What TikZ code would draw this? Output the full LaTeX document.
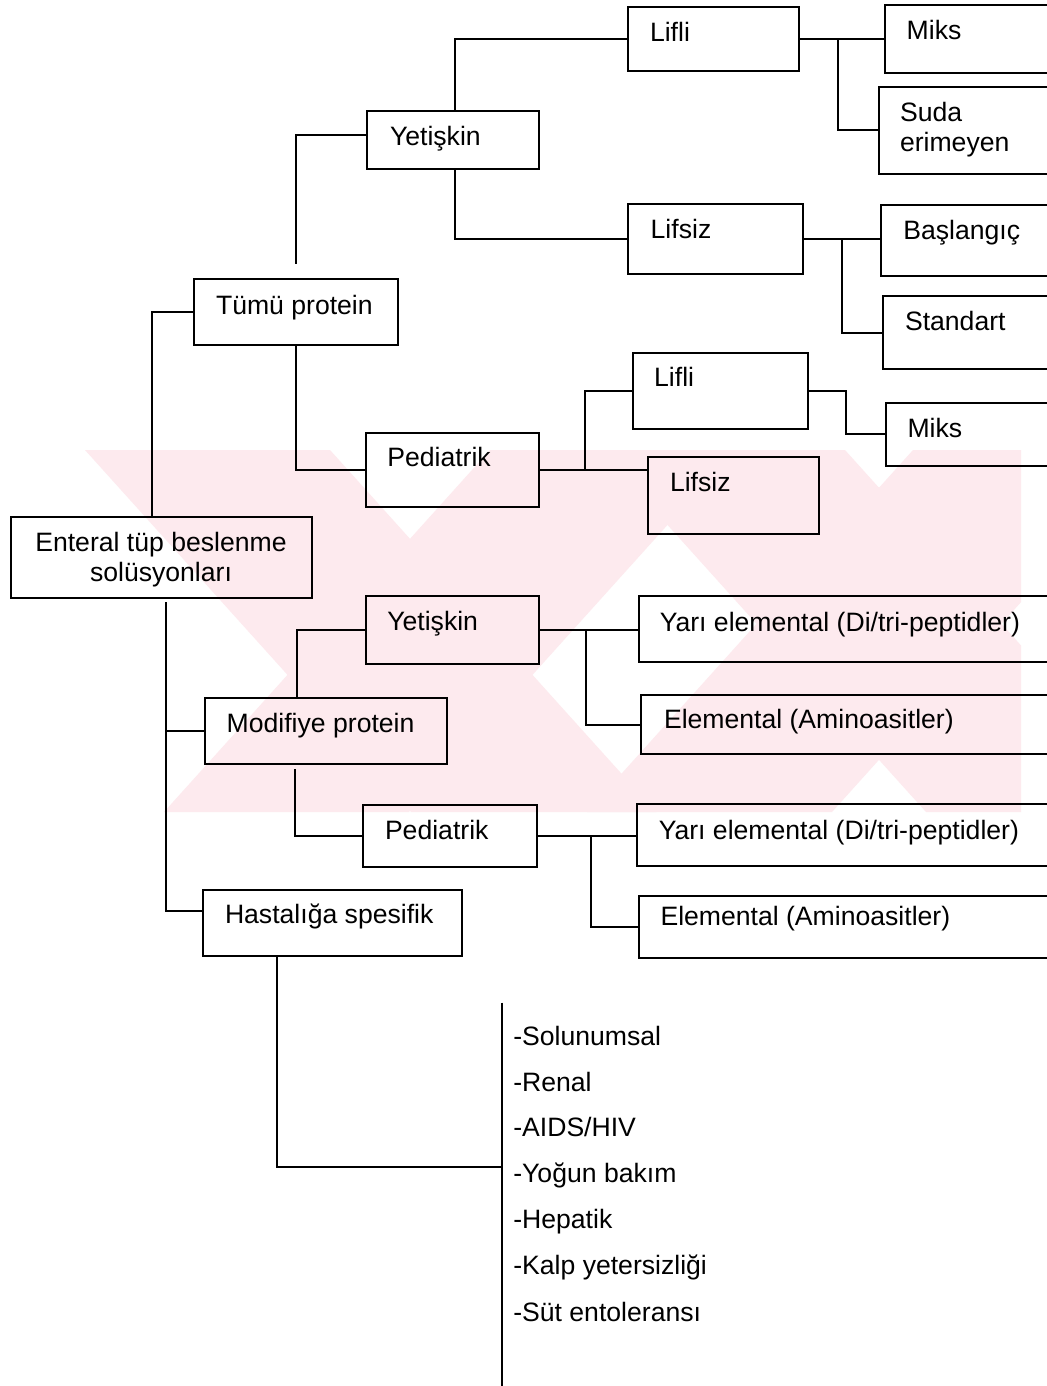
\documentclass[tikz,border=0pt]{standalone}
\usepackage{fontspec}
\setmainfont{Liberation Sans}
\definecolor{wmpink}{RGB}{253,234,238}
\newcommand\mybox[5]{%
  \pgfmathsetmacro\myBW{(#4-#2)*0.5}%
  \pgfmathsetmacro\myBH{(#5-#3)*0.5}%
  \node[bx, minimum width=\myBW pt, minimum height=\myBH pt] (#1) at ({(#2+#4)/2},{(#3+#5)/2}) {};}
\newcommand\mytext[4]{\node[txt] (#1) at (#2,#3) {#4};}
\begin{document}
\begin{tikzpicture}[x=0.5pt,y=-0.5pt,
  bx/.style={draw, line width=1pt, inner sep=0pt, outer sep=0pt, rectangle},
  txt/.style={inner sep=0pt, outer sep=0pt, font=\fontsize{13.3pt}{16pt}\selectfont, anchor=base west},
  ctxt/.style={txt, anchor=base},
  ln/.style={line width=1pt},
  wm/.style={fill=wmpink, draw=none}]
\useasboundingbox (0,0) rectangle (1047,1386);
\clip (0,0) rectangle (1047,1386);
\fill[white] (0,0) rectangle (1047,1386);

% faint watermark
\begin{scope}
  \clip (85,450) rectangle (1021,812);
  \fill[wm] (85,450) -- (330,450) -- (656,812) -- (411,812) -- cycle;
  \fill[wm] (490,450) -- (735,450) -- (409,812) -- (164,812) -- cycle;
  \fill[wm] (600,450) -- (845,450) -- (1171,812) -- (926,812) -- cycle;
  \fill[wm] (913,450) -- (1158,450) -- (832,812) -- (587,812) -- cycle;
\end{scope}

% boxes
\mybox{lifli1}{628}{7}{799}{71}
\mybox{miks1}{885}{5}{1060}{73}
\mybox{suda}{879}{87}{1060}{174}
\mybox{lifsiz1}{628}{204}{803}{274}
\mybox{basl}{881}{205}{1060}{276}
\mybox{stand}{883}{296}{1060}{369}
\mybox{yet1}{367.3}{111}{539}{169.3}
\mybox{tumu}{194}{278.7}{398}{345.3}
\mybox{ped1}{365.7}{433.3}{539}{506.7}
\mybox{lifli2}{632.6}{352.7}{807.7}{429.3}
\mybox{lifsiz2}{648}{457.3}{818.6}{534}
\mybox{miks2}{886}{402.7}{1060}{466}
\mybox{ent}{10.7}{516.7}{311.7}{598.3}
\mybox{yet2}{366}{596}{539.3}{664}
\mybox{mod}{205}{698.3}{447.3}{764.3}
\mybox{ped2}{363.3}{805}{537.3}{866.7}
\mybox{hast}{202.7}{890}{461.7}{955.7}
\mybox{yari1}{638.9}{596}{1060}{661.7}
\mybox{elem1}{641.3}{695}{1060}{754}
\mybox{yari2}{636.8}{804}{1060}{866}
\mybox{elem2}{638.9}{896}{1060}{958.3}

% texts
\mytext{tlifli1}{650}{41.7}{Lifli}
\mytext{tmiks1}{906.7}{40}{Miks}
\mytext{tsuda1}{900}{121.7}{Suda}
\mytext{tsuda2}{900}{151.7}{erimeyen}
\mytext{tlifsiz1}{650.7}{238.3}{Lifsiz}
\mytext{tbasl}{903.3}{239.3}{Başlangıç}
\mytext{tstand}{905}{330.7}{Standart}
\mytext{tyet1}{390}{146}{Yetişkin}
\mytext{ttumu}{216}{314.3}{Tümü protein}
\mytext{tped1}{387.3}{466.7}{Pediatrik}
\mytext{tlifli2}{654.2}{386.7}{Lifli}
\mytext{tlifsiz2}{670}{491.7}{Lifsiz}
\mytext{tmiks2}{907.5}{437.3}{Miks}
\node[ctxt] (tent1) at (161,551.7) {Enteral tüp beslenme};
\node[ctxt] (tent2) at (161,581.7) {solüsyonları};
\mytext{tyet2}{387.3}{630.7}{Yetişkin}
\mytext{tmod}{226.7}{732.7}{Modifiye protein}
\mytext{tped2}{385}{839}{Pediatrik}
\mytext{thast}{225}{923.3}{Hastalığa spesifik}
\mytext{tyari1}{659.8}{631}{Yarı elemental (Di/tri-peptidler)}
\mytext{telem1}{664}{728.3}{Elemental (Aminoasitler)}
\mytext{tyari2}{658.8}{839.3}{Yarı elemental (Di/tri-peptidler)}
\mytext{telem2}{660.5}{925}{Elemental (Aminoasitler)}

% list
\coordinate (bartop) at (502.3,1002.7);
\coordinate (barbot) at (502.3,1392);
\mytext{l1}{513.3}{1045}{-Solunumsal}
\mytext{l2}{513.3}{1091}{-Renal}
\mytext{l3}{513.3}{1136.7}{-AIDS/HIV}
\mytext{l4}{513.3}{1182.7}{-Yoğun bakım}
\mytext{l5}{513.3}{1228.7}{-Hepatik}
\mytext{l6}{513.3}{1274.7}{-Kalp yetersizliği}
\mytext{l7}{513.3}{1321}{-Süt entoleransı}

% connectors
\begin{scope}[ln]
  \draw (yet1.west |- 0,135) -| (tumu.north |- 0,264);
  \draw (yet1.north -| 455,0) |- (lifli1.west);
  \draw (yet1.south -| 455,0) |- (lifsiz1.west);
  \draw (lifli1.east) -- (miks1.west |- lifli1.east);
  \draw (lifli1.east -| 838,0) |- (suda.west);
  \draw (lifsiz1.east) -- (basl.west |- lifsiz1.east);
  \draw (lifsiz1.east -| 842,0) |- (stand.west);
  \draw (tumu.west) -| (ent.north -| 151.7,0);
  \draw (tumu.south) |- (ped1.west);
  \draw (ped1.east) -- (lifsiz2.west |- ped1.east);
  \draw (ped1.east -| 585,0) |- (lifli2.west);
  \draw (lifli2.east) -- (lifli2.east -| 846,0) |- (miks2.west);
  \draw ([yshift=-2pt]ent.south -| 165.7,0) |- (hast.west |- 0,910.7);
  \draw (mod.west) -- (mod.west -| 165.7,0);
  \draw (mod.north -| 296.7,0) |- (yet2.west);
  \draw ([yshift=-2.5pt]mod.south -| 295,0) |- (ped2.west);
  \draw (yet2.east) -- (yari1.west |- yet2.east);
  \draw (yet2.east -| 585.5,0) |- (elem1.west);
  \draw (ped2.east) -- (yari2.west |- ped2.east);
  \draw ([yshift=-0.6pt]ped2.east -| 590.7,0) |- (elem2.west);
  \draw (hast.south -| 276.7,0) |- (bartop |- 0,1166.7);
  \draw (bartop) -- (barbot);
\end{scope}
\end{tikzpicture}
\end{document}
